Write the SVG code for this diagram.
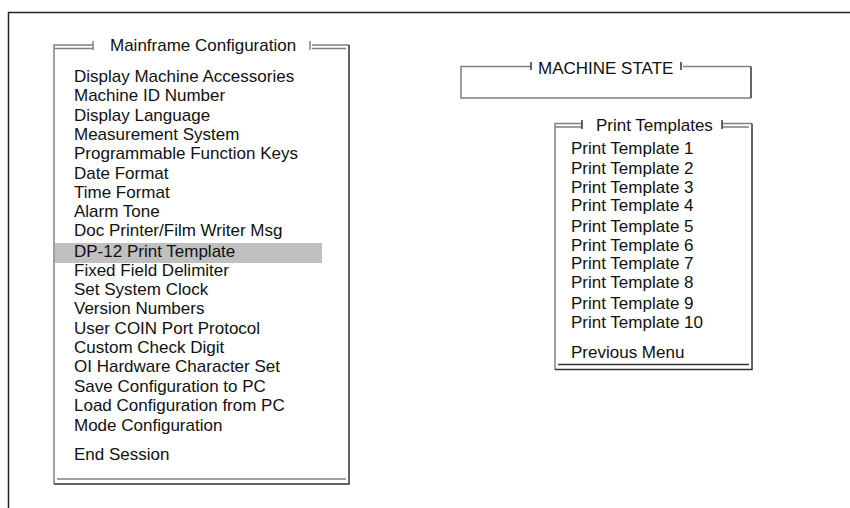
<svg xmlns="http://www.w3.org/2000/svg" width="850" height="508" viewBox="0 0 850 508">
<style>
text{font-family:"Liberation Sans",Arial,sans-serif;font-size:17px;fill:#111}
.lt{stroke:#808080;stroke-width:1.5;fill:none}
.dk{stroke:#333;stroke-width:1.5;fill:none}
.fr{stroke:#222;stroke-width:1.5;fill:none}
</style>
<rect width="850" height="508" fill="#fff"/>
<path class="fr" d="M8.5,508 V12.5 H850"/>
<g id="mainframe">
<rect x="55" y="243" width="267" height="20" fill="#c0c0c0"/>
<path class="lt" d="M54,484 V45 H93 M54,48.5 H93 M312,45 H349 M312,48.5 H346 M57,479 H346"/>
<path class="lt" d="M93,41 V50 M310,41 V50"/>
<path class="dk" d="M349,45 V484 H54"/>
<text x="110" y="51">Mainframe Configuration</text>
<text x="74" y="82">Display Machine Accessories</text>
<text x="74" y="101">Machine ID Number</text>
<text x="74" y="121">Display Language</text>
<text x="74" y="140">Measurement System</text>
<text x="74" y="159">Programmable Function Keys</text>
<text x="74" y="179">Date Format</text>
<text x="74" y="198">Time Format</text>
<text x="74" y="217">Alarm Tone</text>
<text x="74" y="236">Doc Printer/Film Writer Msg</text>
<text x="74" y="257">DP-12 Print Template</text>
<text x="74" y="276">Fixed Field Delimiter</text>
<text x="74" y="295">Set System Clock</text>
<text x="74" y="314">Version Numbers</text>
<text x="74" y="334">User COIN Port Protocol</text>
<text x="74" y="353">Custom Check Digit</text>
<text x="74" y="372">OI Hardware Character Set</text>
<text x="74" y="392">Save Configuration to PC</text>
<text x="74" y="411">Load Configuration from PC</text>
<text x="74" y="431">Mode Configuration</text>
<text x="74" y="460">End Session</text>
</g>
<g id="machine-state">
<path class="lt" d="M531,66.5 H461 V98 H751 M683,66.5 H751"/>
<path class="dk" d="M531,62 V70 M681,62 V70"/>
<path class="dk" d="M751,66.5 V98"/>
<text x="538" y="74">MACHINE STATE</text>
</g>
<g id="print-templates">
<path class="lt" d="M555,369.5 V123.5 H582 M555,127 H582 M722,123.5 H752 M722,127 H749"/>
<path class="dk" d="M582,120 V129 M722,120 V129"/>
<path class="dk" d="M752,123.5 V369.5 H555 M558,364.5 H749"/>
<text x="596" y="131">Print Templates</text>
<text x="571" y="154">Print Template 1</text>
<text x="571" y="174">Print Template 2</text>
<text x="571" y="193">Print Template 3</text>
<text x="571" y="211">Print Template 4</text>
<text x="571" y="232">Print Template 5</text>
<text x="571" y="251">Print Template 6</text>
<text x="571" y="269">Print Template 7</text>
<text x="571" y="288">Print Template 8</text>
<text x="571" y="309">Print Template 9</text>
<text x="571" y="328">Print Template 10</text>
<text x="571" y="358">Previous Menu</text>
</g>
<g id="connectors"></g>
</svg>
